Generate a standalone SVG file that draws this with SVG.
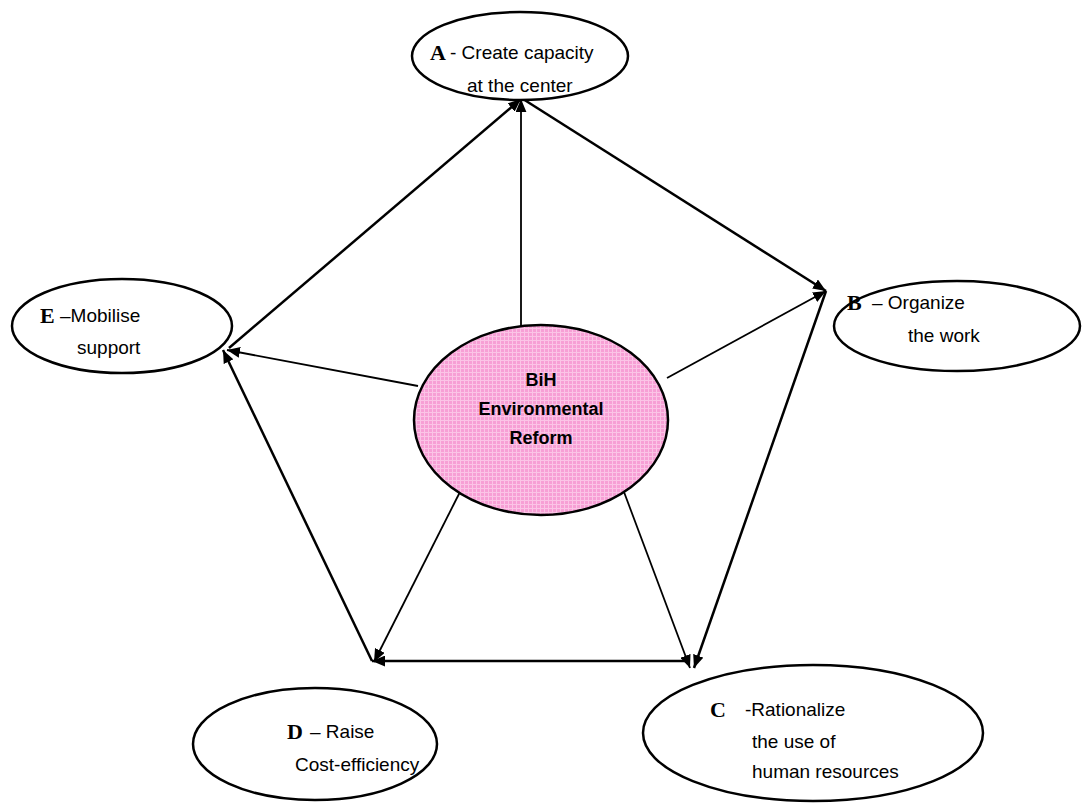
<svg xmlns="http://www.w3.org/2000/svg" width="1088" height="804" viewBox="0 0 1088 804">
  <style>
    .node { fill: #ffffff; stroke: #000000; stroke-width: 2.5; }
    .hub { fill: url(#pinkGrid); stroke: #000000; stroke-width: 2.5; }
    .lbl { font-family: "Liberation Sans", Arial, sans-serif; font-size: 19px; fill: #000000; }
    .key { font-family: "Liberation Serif", "Times New Roman", serif; font-size: 22px; font-weight: bold; fill: #000000; }
    .hubtxt { font-family: "Liberation Sans", Arial, sans-serif; font-size: 18px; font-weight: bold; fill: #000000; text-anchor: middle; }
    .edge { stroke: #000000; stroke-width: 2.5; fill: none; marker-end: url(#head); }
    .spoke { stroke: #000000; stroke-width: 1.8; fill: none; marker-end: url(#head); }
  </style>
  <defs>
    <pattern id="pinkGrid" width="4" height="4" patternUnits="userSpaceOnUse">
      <rect width="4" height="4" fill="#f79fd5"/>
      <path d="M0 0.5 H4 M0.5 0 V4" stroke="#fbc4e6" stroke-width="1"/>
    </pattern>
    <marker id="head" viewBox="0 0 12 10" refX="12" refY="5" markerWidth="13" markerHeight="11" markerUnits="userSpaceOnUse" orient="auto">
      <path d="M0 0 L12 5 L0 10 Z" fill="#000000"/>
    </marker>
  </defs>

  <!-- connectors -->
  <g id="connectors">
    <line class="spoke" x1="521" y1="326" x2="521" y2="99"/>
    <line class="spoke" x1="667" y1="378" x2="826" y2="291"/>
    <line class="spoke" x1="624" y1="492" x2="690" y2="668"/>
    <line class="spoke" x1="462" y1="488" x2="374" y2="662"/>
    <line class="spoke" x1="418" y1="386" x2="227" y2="350"/>
    <line class="edge" x1="523" y1="99" x2="826" y2="291"/>
    <line class="edge" x1="826" y1="291" x2="694" y2="668"/>
    <line class="edge" x1="690" y1="661" x2="372" y2="661"/>
    <line class="edge" x1="372" y1="661" x2="223" y2="350"/>
    <line class="edge" x1="229" y1="348" x2="521" y2="99"/>
  </g>

  <!-- A -->
  <g id="node-a">
    <ellipse class="node" cx="520" cy="56" rx="108" ry="44"/>
    <text class="key" x="430" y="60">A</text>
    <text class="lbl" x="450" y="59">- Create capacity</text>
    <text class="lbl" x="467" y="92">at the center</text>
  </g>

  <!-- B -->
  <g id="node-b">
    <ellipse class="node" cx="957" cy="326" rx="123" ry="45"/>
    <text class="key" x="847" y="310">B</text>
    <text class="lbl" x="872" y="309">– Organize</text>
    <text class="lbl" x="908" y="342">the work</text>
  </g>

  <!-- C -->
  <g id="node-c">
    <ellipse class="node" cx="813" cy="733" rx="170" ry="68"/>
    <text class="key" x="710" y="717">C</text>
    <text class="lbl" x="745" y="716">-Rationalize</text>
    <text class="lbl" x="752" y="748">the use of</text>
    <text class="lbl" x="752" y="778">human resources</text>
  </g>

  <!-- D -->
  <g id="node-d">
    <ellipse class="node" cx="315" cy="744" rx="122" ry="56"/>
    <text class="key" x="287" y="739">D</text>
    <text class="lbl" x="310" y="738">– Raise</text>
    <text class="lbl" x="295" y="771">Cost-efficiency</text>
  </g>

  <!-- E -->
  <g id="node-e">
    <ellipse class="node" cx="122" cy="326" rx="110" ry="47"/>
    <text class="key" x="40" y="323">E</text>
    <text class="lbl" x="60" y="322">–Mobilise</text>
    <text class="lbl" x="77" y="354">support</text>
  </g>

  <!-- hub -->
  <g id="node-hub">
    <ellipse class="hub" cx="541" cy="420" rx="127" ry="95"/>
    <text class="hubtxt" x="541" y="386">BiH</text>
    <text class="hubtxt" x="541" y="415">Environmental</text>
    <text class="hubtxt" x="541" y="444">Reform</text>
  </g>
</svg>
